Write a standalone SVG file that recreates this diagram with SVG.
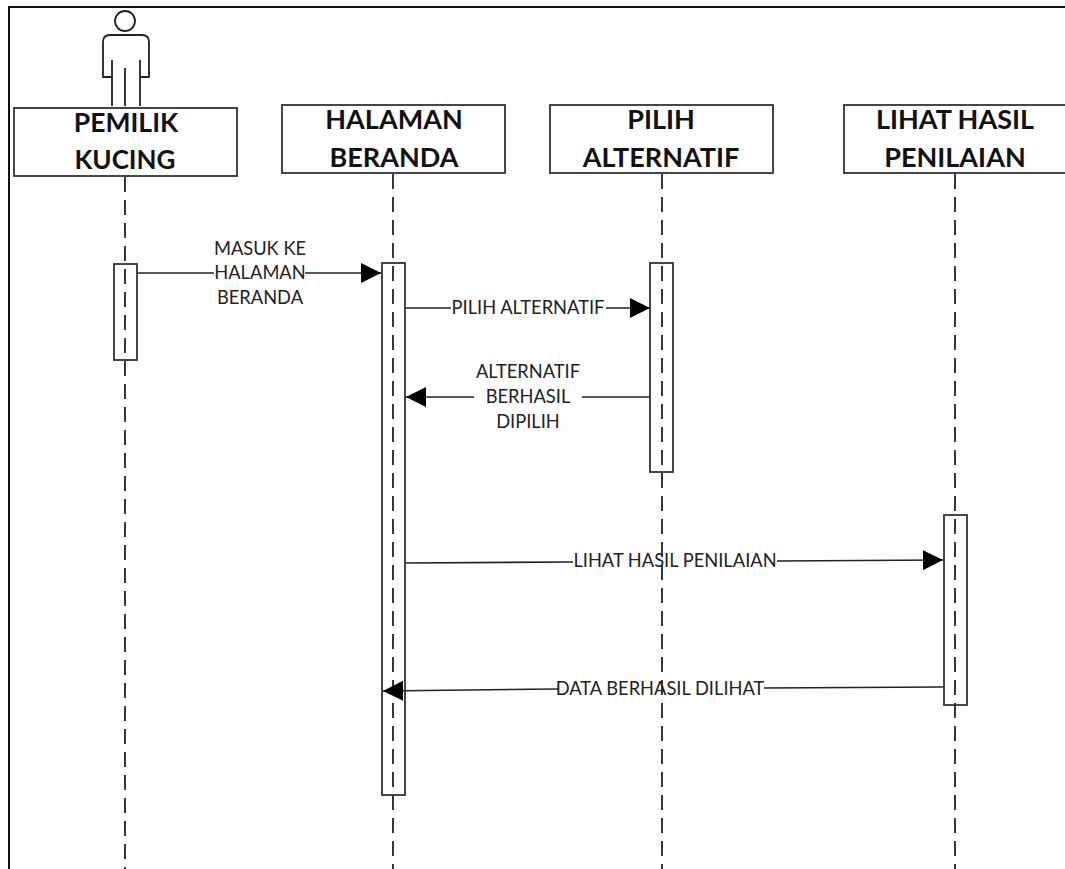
<svg xmlns="http://www.w3.org/2000/svg" width="1065" height="869" viewBox="0 0 1065 869">
<style>
.o{fill:none;stroke:#222;stroke-width:1.8}
.b{fill:#fff;stroke:#333;stroke-width:1.8}
.a{fill:none;stroke:#222;stroke-width:1.6}
.l{fill:none;stroke:#222;stroke-width:1.8;stroke-dasharray:15 8}
.t{font-family:"Lato","Liberation Sans",Arial,sans-serif;font-size:27px;font-weight:bold;fill:#111;text-anchor:middle}
.m{font-family:"Lato","Open Sans",Arial,sans-serif;font-size:18.3px;fill:#222;text-anchor:middle}
</style>
<defs>
<marker id="h" markerUnits="userSpaceOnUse" markerWidth="20" markerHeight="20" refX="20" refY="10" orient="auto"><path d="M0 0L20 10L0 20Z" fill="#000"/></marker>
</defs>
<rect width="1065" height="869" fill="#fff"/>
<path d="M9 869V7H1065" fill="none" stroke="#111" stroke-width="2"/>
<g id="actor" class="o" stroke-linejoin="round">
<circle cx="125" cy="21" r="10"/>
<path d="M112 106V77H103V42Q103 35 110 35H142Q149 35 149 42V77H140V106"/>
<path d="M112 60V77M140 60V77M125 68V106"/>
</g>
<g id="connectors">
<g id="lifelines">
<path class="l" d="M125 177V869"/><path class="l" d="M393 174V869"/><path class="l" d="M662 174V869"/><path class="l" d="M955 174V869"/>
</g>
<g id="messages">
<path class="a" d="M137 273H214"/><path class="a" d="M305 273H381" marker-end="url(#h)"/>
<path class="a" d="M405 308H451"/><path class="a" d="M606 308H650" marker-end="url(#h)"/>
<path class="a" d="M650 397H582"/><path class="a" d="M474 397H406" marker-end="url(#h)"/>
<path class="a" d="M405 563L573 562"/><path class="a" d="M777 561L943 560" marker-end="url(#h)"/>
<path class="a" d="M944 687L764 688"/><path class="a" d="M558 689L383 691" marker-end="url(#h)"/>
</g>
</g>
<g id="node-pemilik"><rect class="b" x="14" y="108" width="223" height="68"/><text class="t" x="126" y="132" style="font-size:26.5px">PEMILIK</text><text class="t" x="125" y="169" style="font-size:26px">KUCING</text></g>
<g id="node-halaman"><rect class="b" x="282" y="105" width="223" height="68"/><text class="t" x="394" y="129">HALAMAN</text><text class="t" x="394" y="167">BERANDA</text></g>
<g id="node-pilih"><rect class="b" x="550" y="105" width="223" height="68"/><text class="t" x="661" y="129">PILIH</text><text class="t" x="661" y="167">ALTERNATIF</text></g>
<g id="node-lihat"><rect class="b" x="844" y="105" width="223" height="68"/><text class="t" x="955" y="129">LIHAT HASIL</text><text class="t" x="955" y="167">PENILAIAN</text></g>
<g id="activations" fill="none" stroke="#333" stroke-width="1.8">
<rect x="114" y="264" width="23" height="96"/>
<rect x="382" y="263" width="23" height="532"/>
<rect x="650" y="263" width="23" height="209"/>
<rect x="944" y="515" width="23" height="190"/>
</g>
<g id="labels">
<text class="m" x="260" y="255">MASUK KE</text><text class="m" x="260" y="279">HALAMAN</text><text class="m" x="260" y="304">BERANDA</text>
<text class="m" x="528" y="314">PILIH ALTERNATIF</text>
<text class="m" x="528" y="378">ALTERNATIF</text><text class="m" x="528" y="403">BERHASIL</text><text class="m" x="528" y="428">DIPILIH</text>
<text class="m" x="675" y="567">LIHAT HASIL PENILAIAN</text>
<text class="m" x="660" y="695">DATA BERHASIL DILIHAT</text>
</g>
</svg>
